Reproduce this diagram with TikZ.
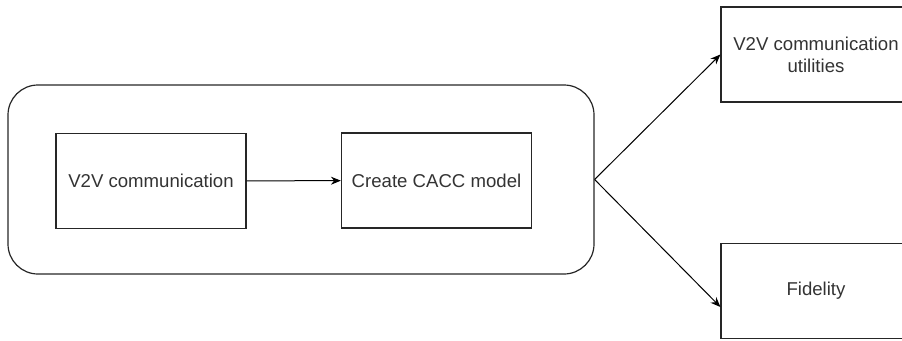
\documentclass[tikz,border=0pt]{standalone}
\usepackage{fontspec}
\setmainfont{Liberation Sans}
\usetikzlibrary{arrows.meta}
\tikzset{
	box/.style={draw=black!85, line width=1.2pt, minimum width=190pt, minimum height=95pt, text=black!80, align=center, inner sep=0pt},
	group/.style={draw=black!85, line width=1.2pt, rounded corners=30pt, minimum width=586pt, minimum height=189pt, inner sep=0pt},
	link/.style={draw=black, line width=1pt, -{Stealth[length=10pt, width=8pt]}}
}
\begin{document}
	\begin{tikzpicture}[x=1pt, y=-1pt, font=\fontsize{18.6}{22}\selectfont]
		\useasboundingbox (0,0) rectangle (902,340);
		\node[group] (grp) at (301,179.5) {};	% Outer frame
		\node[box] (v2v) at (151,181) {V2V communication};
		\node[box] (cacc) at (436.5,180.5) {Create CACC model};
		\node[box] (util) at (816,54.5) {V2V communication\\utilities};
		\node[box] (fid) at (816,291) {Fidelity};
		\coordinate (fidin) at ([yshift=-16pt]fid.west);
		\draw[link] (v2v) -- (cacc);
		\draw[link] (grp.east) -- (util.west);
		\draw[link] (grp.east) -- (fidin);
	\end{tikzpicture}
\end{document}
